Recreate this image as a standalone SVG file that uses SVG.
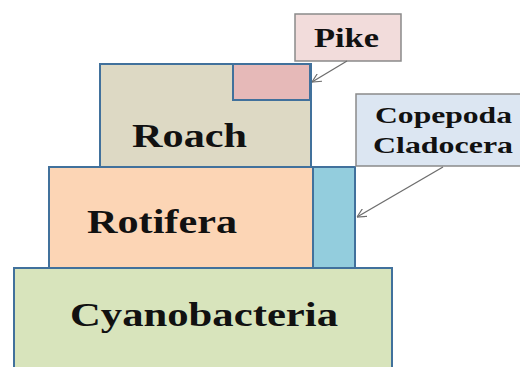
<svg xmlns="http://www.w3.org/2000/svg" width="520" height="367" viewBox="0 0 520 367">
<style>
.blk{stroke:#41719c;stroke-width:2}
.lbl{stroke:#8a8a8a;stroke-width:1.5}
text{font-family:"Liberation Serif","Times New Roman",serif;font-weight:bold;fill:#111}
.big{font-size:34px}
.sm{font-size:24px}
.conn{stroke:#6d6d6d;stroke-width:1.3;fill:none}
</style>
<defs>
<marker id="arr" viewBox="0 0 10 10" refX="10" refY="5" markerWidth="9" markerHeight="9" orient="auto" markerUnits="userSpaceOnUse">
<path d="M0,0 L10,5 L0,10" fill="none" stroke="#6d6d6d" stroke-width="1.3"/>
</marker>
</defs>
<rect width="520" height="367" fill="#ffffff"/>
<g id="cyanobacteria">
<rect class="blk" x="14" y="268" width="378" height="110" fill="#d8e4bc"/>
<text class="big" x="70" y="326" textLength="268" lengthAdjust="spacingAndGlyphs">Cyanobacteria</text>
</g>
<g id="rotifera">
<rect class="blk" x="49" y="167" width="264" height="101" fill="#fcd5b5"/>
<text class="big" x="87" y="233" textLength="150" lengthAdjust="spacingAndGlyphs">Rotifera</text>
</g>
<g id="copepoda-block">
<rect class="blk" x="313" y="167" width="42" height="101" fill="#93cddd"/>
</g>
<g id="roach">
<rect class="blk" x="100" y="64" width="211" height="103" fill="#ddd9c4"/>
<text class="big" x="132" y="147" textLength="115" lengthAdjust="spacingAndGlyphs">Roach</text>
</g>
<g id="pike-block">
<rect class="blk" x="233" y="64" width="77" height="36" fill="#e6b9b8"/>
</g>
<g id="pike-label">
<rect class="lbl" x="295" y="14" width="106" height="47" fill="#f2dcdb"/>
<text x="314" y="47" font-size="27" textLength="65" lengthAdjust="spacingAndGlyphs">Pike</text>
</g>
<g id="copepoda-label">
<rect class="lbl" x="356" y="94" width="170" height="72" fill="#dce6f2"/>
<text class="sm" x="375" y="123" textLength="137" lengthAdjust="spacingAndGlyphs">Copepoda</text>
<text class="sm" x="373" y="153" textLength="140" lengthAdjust="spacingAndGlyphs">Cladocera</text>
</g>
<g id="connectors">
<line class="conn" x1="347" y1="61" x2="312" y2="82" marker-end="url(#arr)"/>
<line class="conn" x1="443" y1="167" x2="357" y2="217" marker-end="url(#arr)"/>
</g>
</svg>
